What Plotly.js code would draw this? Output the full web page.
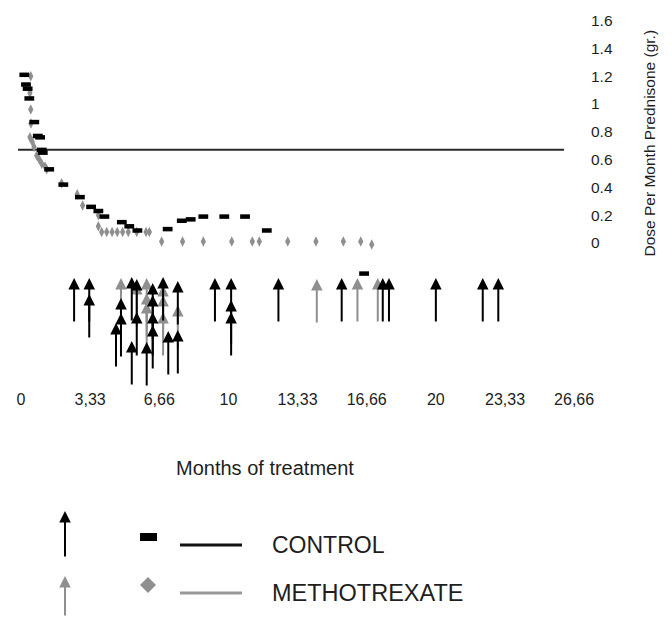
<!DOCTYPE html>
<html>
<head>
<meta charset="utf-8">
<script src="https://cdn.plot.ly/plotly-3.0.1.min.js"></script>
<style>html,body{margin:0;padding:0;background:#fff;}#chart{width:672px;height:617px;}</style>
</head>
<body>
<div id="chart"></div>
<script>
// ---- Data ----
// Prednisone dose per month (gr.), control group
var ctrlMonths = [0.16,0.24,0.32,0.40,0.64,0.81,0.92,1.00,1.05,1.36,2.04,2.84,3.38,3.73,4.02,4.86,5.22,5.61,7.07,7.75,8.18,8.79,9.80,10.80,11.85,16.54];
var ctrlDose   = [1.21,1.14,1.11,1.04,0.87,0.77,0.76,0.67,0.65,0.53,0.42,0.33,0.26,0.23,0.19,0.15,0.12,0.09,0.10,0.16,0.17,0.19,0.19,0.19,0.09,-0.22];
// Prednisone dose per month (gr.), methotrexate group
var mtxMonths = [0.47,0.43,0.47,0.48,0.43,0.54,0.63,0.76,0.88,1.00,1.16,1.24,1.96,2.71,2.97,3.73,3.73,3.89,4.13,4.39,4.64,4.90,5.17,5.58,6.03,6.19,6.78,7.79,8.79,10.16,11.15,11.49,12.86,14.22,15.54,16.38,16.91];
var mtxDose   = [1.20,1.08,0.96,0.86,0.76,0.73,0.69,0.63,0.60,0.57,0.55,0.53,0.43,0.35,0.27,0.20,0.12,0.08,0.08,0.08,0.08,0.08,0.08,0.08,0.08,0.08,0.01,0.01,0.01,0.01,0.01,0.01,0.01,0.01,0.01,0.01,-0.01];
// Horizontal reference line
var refLineMonths = [-0.145, 26.18];
var refLineDose   = [0.67, 0.67];
// Event arrows: month and stacking level of the arrow tip
var ctrlArrowMonths = [2.56,3.29,3.29,4.58,4.82,4.82,5.34,5.34,5.58,5.58,6.06,6.35,6.35,6.35,6.35,6.85,7.10,7.56,7.56,9.35,10.13,10.13,10.13,12.41,15.46,17.44,17.74,20.0,22.26,23.01];
var ctrlArrowLevel  = [110,110,94,65,90,75,111,47,109,76,46,105,93,76,63,111,57,107,58,110,110,88,76,110,110,110,110,110,110,110];
var mtxArrowMonths = [4.82,5.58,6.06,6.06,6.06,6.85,6.85,6.85,7.56,14.26,16.22,17.20];
var mtxArrowLevel  = [110,105,110,95,86,103,93,76,83,109,110,110];
var arrowLength = 45;
// Tick labels
var xTickVals = [0,3.333,6.666,10,13.333,16.666,20,23.333,26.666];
var xTickText = ['0','3,33','6,66','10','13,33','16,66','20','23,33','26,66'];
var yTickVals = [0,0.2,0.4,0.6,0.8,1,1.2,1.4,1.6];
var yTickText = ['0','0.2','0.4','0.6','0.8','1','1.2','1.4','1.6'];

var BLACK = '#000000', GREY = '#8f8f8f', TXT = '#1e1e1e', FONT = 'Liberation Sans, Arial, Helvetica, sans-serif';
var W = 672, H = 617;
function px(x){ return x / W; }
function py(y){ return 1 - y / H; }

var traces = [
  {x: refLineMonths, y: refLineDose, xaxis:'x', yaxis:'y', mode:'lines', line:{color:'#2a2a2a', width:2}, hoverinfo:'skip', showlegend:false},
  {x: mtxMonths, y: mtxDose, xaxis:'x', yaxis:'y', mode:'markers', name:'METHOTREXATE',
   marker:{symbol:'diamond-tall', size:7.5, color:GREY, line:{width:0}}, showlegend:false, cliponaxis:false},
  {x: ctrlMonths, y: ctrlDose, xaxis:'x', yaxis:'y', mode:'markers', name:'CONTROL',
   marker:{symbol:'line-ew', size:7, color:BLACK, line:{color:BLACK, width:4.5}}, showlegend:false, cliponaxis:false}
];

var annotations = [];
function addArrows(months, levels, color){
  for (var i = 0; i < months.length; i++){
    annotations.push({x: months[i], y: levels[i], xref:'x', yref:'y2',
      ax: months[i], ay: levels[i] - arrowLength, axref:'x', ayref:'y2',
      text:'', showarrow:true, arrowhead:2, arrowsize:1.15, arrowwidth:2, arrowcolor:color, standoff:0});
  }
}
addArrows(mtxArrowMonths, mtxArrowLevel, GREY);
addArrows(ctrlArrowMonths, ctrlArrowLevel, BLACK);

// Axis title on the right
annotations.push({text:'Dose Per Month Prednisone (gr.)', xref:'paper', yref:'paper', x:px(649.5), y:py(143),
  xanchor:'center', yanchor:'middle', textangle:-90, showarrow:false, font:{family:FONT, size:15.5, color:TXT}});
// Bottom caption
annotations.push({text:'Months of treatment', xref:'paper', yref:'paper', x:px(265), y:py(468),
  xanchor:'center', yanchor:'middle', showarrow:false, font:{family:FONT, size:20, color:TXT}});
// Legend arrows and labels
annotations.push({xref:'paper', yref:'paper', x:px(65), y:py(511), ax:0, ay:47, text:'', showarrow:true,
  arrowhead:2, arrowsize:1.15, arrowwidth:2, arrowcolor:BLACK, standoff:0});
annotations.push({xref:'paper', yref:'paper', x:px(65), y:py(576), ax:0, ay:48, text:'', showarrow:true,
  arrowhead:2, arrowsize:1.15, arrowwidth:2, arrowcolor:GREY, standoff:0});
annotations.push({text:'CONTROL', xref:'paper', yref:'paper', x:px(270), y:py(545), xanchor:'left', yanchor:'middle',
  showarrow:false, font:{family:FONT, size:23, color:TXT}});
annotations.push({text:'METHOTREXATE', xref:'paper', yref:'paper', x:px(270), y:py(593), xanchor:'left', yanchor:'middle',
  showarrow:false, font:{family:FONT, size:23.5, color:TXT}});

var shapes = [
  {type:'rect', xref:'paper', yref:'paper', x0:px(140), x1:px(157), y0:py(533), y1:py(541), fillcolor:BLACK, line:{width:0}},
  {type:'line', xref:'paper', yref:'paper', x0:px(180), x1:px(242), y0:py(545), y1:py(545), line:{color:'#111', width:3}},
  {type:'path', xref:'paper', yref:'paper',
   path:'M'+px(140)+','+py(585)+' L'+px(148)+','+py(577)+' L'+px(156)+','+py(585)+' L'+px(148)+','+py(593)+' Z',
   fillcolor:GREY, line:{width:0}},
  {type:'line', xref:'paper', yref:'paper', x0:px(180), x1:px(242), y0:py(593), y1:py(593), line:{color:'#999', width:3}}
];

var layout = {
  width: W, height: H,
  margin:{l:0, r:0, t:0, b:0, pad:0},
  paper_bgcolor:'#ffffff', plot_bgcolor:'rgba(0,0,0,0)',
  showlegend:false,
  font:{family:FONT, color:TXT},
  xaxis:{domain:[18/W, 663/W], range:[-0.1446, 30.95], anchor:'y2',
    tickvals:xTickVals, ticktext:xTickText, ticks:'', showgrid:false, zeroline:false, showline:false,
    tickfont:{family:FONT, size:16, color:TXT}, fixedrange:true},
  yaxis:{domain:[1-282/H, 1-12/H], range:[-0.2806, 1.6619], anchor:'free', side:'right', position:590/W,
    tickvals:yTickVals, ticktext:yTickText, ticks:'', showgrid:false, zeroline:false, showline:false,
    tickfont:{family:FONT, size:15.5, color:TXT}, fixedrange:true},
  yaxis2:{domain:[1-388/H, 1-265/H], range:[0, 123], anchor:'x', visible:false, showgrid:false, zeroline:false, fixedrange:true},
  annotations: annotations,
  shapes: shapes
};

Plotly.newPlot('chart', traces, layout, {displayModeBar:false, staticPlot:true});
</script>
</body>
</html>
